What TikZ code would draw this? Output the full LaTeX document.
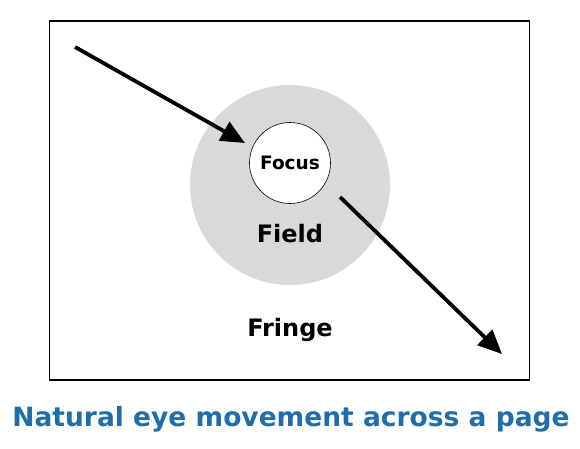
\documentclass[tikz,border=0pt]{standalone}
\usepackage{fontspec}
\setmainfont{DejaVu Sans}
\usetikzlibrary{arrows.meta}
\definecolor{titleblue}{RGB}{31,110,170}
\definecolor{fieldgray}{RGB}{217,217,217}
\begin{document}
\begin{tikzpicture}[x=1pt,y=-1pt,
        zone/.style={circle,inner sep=0pt},
        eyemove/.style={line width=3.8pt,-{Triangle[length=24pt,width=21pt]}},
        lbl/.style={font=\bfseries\fontsize{24}{28}\selectfont,anchor=base}]
        \useasboundingbox (0,0) rectangle (580,449);
        \node[draw,line width=1.8pt,minimum width=480pt,minimum height=359pt,inner sep=0pt] (page) at (289.5,200.5) {};

        \node[zone,fill=fieldgray,minimum size=200pt] (field) at (290,185) {};
        \node[zone,draw,fill=white,line width=0.6pt,minimum size=81pt,font=\bfseries\fontsize{18.5}{22}\selectfont] (focus) at (290,163) {Focus};
        \node[lbl] (fieldtxt)  at (290,242) {Field};
        \node[lbl] (fringetxt) at (290,336) {Fringe};
        \node[anchor=base,text=titleblue,font=\bfseries\fontsize{26.5}{30}\selectfont] (title) at (291,426) {Natural eye movement across a page};

        \coordinate (s1) at (75,47);
        \coordinate (e1) at (245,143);
        \coordinate (s2) at (340,197);
        \coordinate (e2) at (502,354);

        \path [eyemove] (s1) edge (e1);
        \path [eyemove] (s2) edge (e2);
    \end{tikzpicture}
\end{document}
